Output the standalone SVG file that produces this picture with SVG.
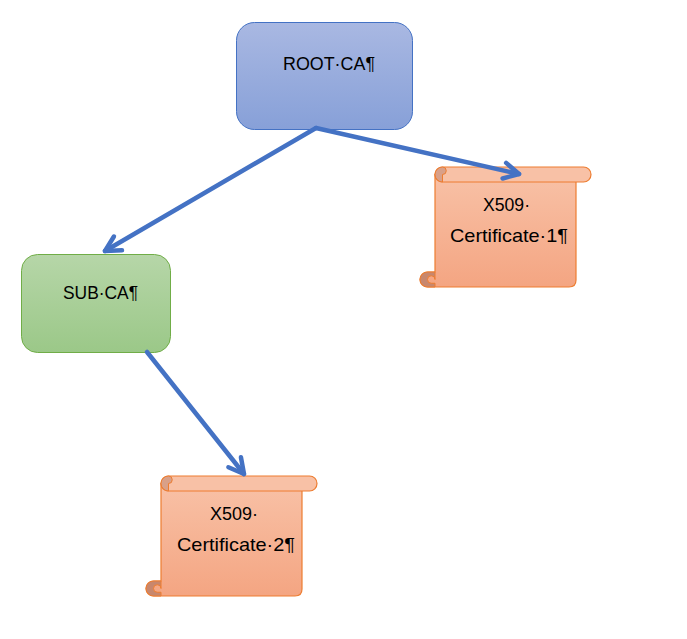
<svg xmlns="http://www.w3.org/2000/svg" width="687" height="639" viewBox="0 0 687 639">
<defs>
<linearGradient id="gBlue" x1="0" y1="0" x2="0" y2="1"><stop offset="0" stop-color="#a9b8e2"/><stop offset="1" stop-color="#87a0d8"/></linearGradient>
<linearGradient id="gGreen" x1="0" y1="0" x2="0" y2="1"><stop offset="0" stop-color="#b6d6a8"/><stop offset="1" stop-color="#9bc888"/></linearGradient>
<linearGradient id="gOrange" x1="0" y1="0" x2="0" y2="1"><stop offset="0" stop-color="#f8c1a6"/><stop offset="1" stop-color="#f4a582"/></linearGradient>
<marker id="arr" viewBox="0 0 22 22" refX="18" refY="11" markerWidth="22" markerHeight="22" markerUnits="userSpaceOnUse" orient="auto">
<path d="M3,3 L18,11 L3,19" fill="none" stroke="#4472c4" stroke-width="4.5" stroke-linecap="round" stroke-linejoin="round"/>
</marker>
<g id="scroll">
<path d="M15,7.5 L156,7.5 L156,113 Q156,120 149,120 L7.5,120 A7.5,7.5 0 0 1 7.5,105 L15,105 Z" fill="url(#gOrange)" stroke="#ed7d31" stroke-width="1.2"/>
<rect x="15" y="0" width="156" height="15" rx="7.5" ry="7.5" fill="#f8c1a6" stroke="#ed7d31" stroke-width="1.2"/>
<path d="M22.5,15 A7.5,7.5 0 0 1 22.5,0 A3.75,3.75 0 0 1 22.5,7.5 Z" fill="#d9a088" stroke="#ed7d31" stroke-width="1"/>
<path d="M7.5,120 A7.5,7.5 0 0 1 7.5,105 L15,105 L15,112.5 A3.75,3.75 0 0 0 7.5,112.5 A3.75,3.75 0 0 0 11.25,116.25 L15,116.25 L15,120 Z" fill="#c8876d" stroke="#ed7d31" stroke-width="1"/>
</g>
</defs>
<style>
text{font-family:"Liberation Sans",Arial,sans-serif;font-size:18.5px;fill:#000}
</style>
<g id="root-ca">
<rect x="236.5" y="22.5" width="176" height="107" rx="18" ry="18" fill="url(#gBlue)" stroke="#4472c4" stroke-width="1"/>
<text x="283" y="69.5" textLength="92" lengthAdjust="spacingAndGlyphs">ROOT·CA¶</text>
</g>
<g id="sub-ca">
<rect x="21.5" y="254.5" width="149" height="98" rx="16" ry="16" fill="url(#gGreen)" stroke="#70ad47" stroke-width="1"/>
<text x="63" y="299" textLength="75" lengthAdjust="spacingAndGlyphs">SUB·CA¶</text>
</g>
<g id="cert1">
<use href="#scroll" transform="translate(420,167)"/>
<text x="483" y="211" textLength="47" lengthAdjust="spacingAndGlyphs">X509·</text>
<text x="450" y="242" textLength="118" lengthAdjust="spacingAndGlyphs">Certificate·1¶</text>
</g>
<g id="cert2">
<use href="#scroll" transform="translate(146,476)"/>
<text x="210" y="519.5" textLength="48" lengthAdjust="spacingAndGlyphs">X509·</text>
<text x="177" y="551" textLength="118" lengthAdjust="spacingAndGlyphs">Certificate·2¶</text>
</g>
<g id="connectors" fill="none" stroke="#4472c4" stroke-width="4.5" stroke-linecap="round">
<line x1="316" y1="128" x2="105" y2="251" marker-end="url(#arr)"/>
<line x1="316" y1="128" x2="519" y2="174" marker-end="url(#arr)"/>
<line x1="147" y1="352" x2="244" y2="474" marker-end="url(#arr)"/>
</g>
</svg>
